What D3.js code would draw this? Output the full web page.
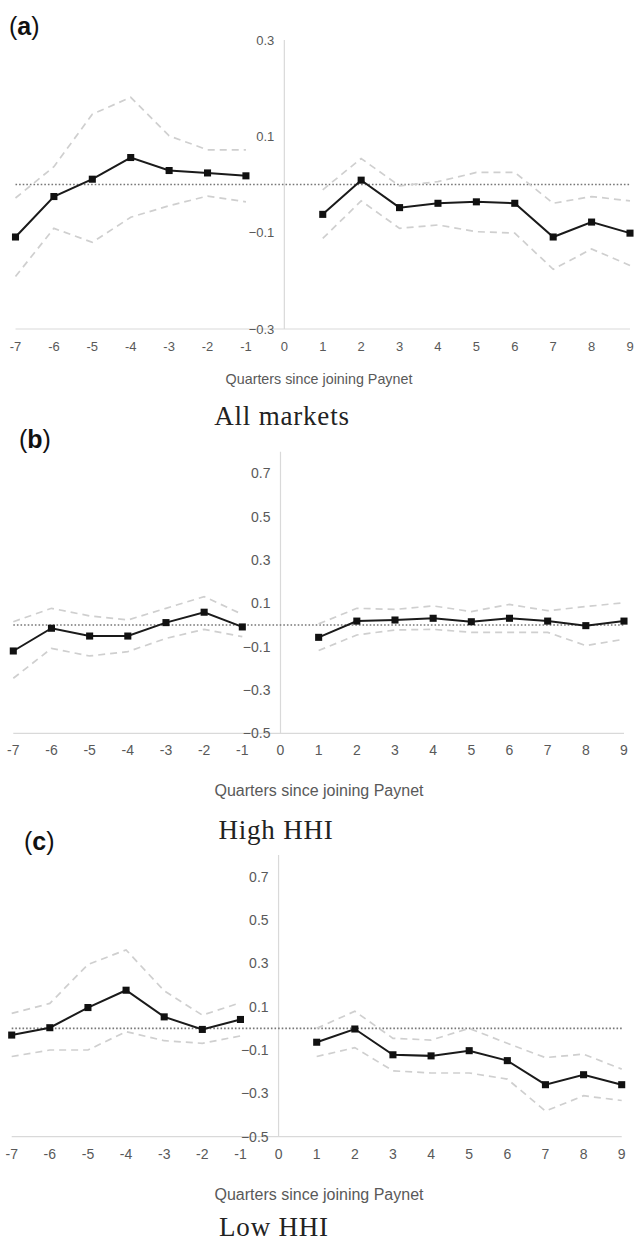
<!DOCTYPE html>
<html lang="en">
<head>
    <meta charset="UTF-8">
    <title>Quarters since joining Paynet</title>
    <script src="https://d3js.org/d3.v7.min.js"></script>
    <style>
        body { margin: 0; background: #fff; }
        svg { display: block; }
    </style>
</head>
<body>
<svg width="634" height="1243"></svg>
<script>
    // quarters relative to joining (0 is the join quarter, no estimate there)
    const quartersPre = [-7, -6, -5, -4, -3, -2, -1];
    const quartersPost = [1, 2, 3, 4, 5, 6, 7, 8, 9];
    const xTicks = [-7, -6, -5, -4, -3, -2, -1, 0, 1, 2, 3, 4, 5, 6, 7, 8, 9];

    // (a) All markets
    const allEst = [-0.109, -0.025, 0.011, 0.056, 0.029, 0.024, 0.018,
                    -0.062, 0.009, -0.048, -0.039, -0.036, -0.039, -0.109, -0.078, -0.101];
    const allHi  = [-0.028, 0.037, 0.146, 0.181, 0.101, 0.072, 0.072,
                    -0.011, 0.054, -0.003, 0.006, 0.025, 0.025, -0.039, -0.025, -0.034];
    const allLo  = [-0.191, -0.091, -0.120, -0.068, -0.044, -0.024, -0.036,
                    -0.112, -0.034, -0.091, -0.084, -0.098, -0.101, -0.176, -0.134, -0.168];

    // (b) High HHI
    const highEst = [-0.120, -0.015, -0.051, -0.051, 0.011, 0.059, -0.009,
                     -0.057, 0.018, 0.023, 0.031, 0.015, 0.031, 0.018, -0.003, 0.018];
    const highHi  = [0.015, 0.077, 0.042, 0.023, 0.077, 0.131, 0.049,
                     0.005, 0.077, 0.072, 0.088, 0.062, 0.095, 0.066, 0.085, 0.103];
    const highLo  = [-0.246, -0.108, -0.143, -0.123, -0.062, -0.020, -0.054,
                     -0.118, -0.046, -0.023, -0.020, -0.034, -0.034, -0.034, -0.095, -0.066];

    // (c) Low HHI
    const lowEst = [-0.031, 0.003, 0.096, 0.176, 0.053, -0.005, 0.041,
                    -0.064, -0.003, -0.122, -0.127, -0.103, -0.149, -0.260, -0.214, -0.260];
    const lowHi  = [0.069, 0.115, 0.295, 0.362, 0.173, 0.061, 0.118,
                    0.000, 0.079, -0.046, -0.054, 0.000, -0.069, -0.135, -0.119, -0.188];
    const lowLo  = [-0.130, -0.100, -0.100, -0.015, -0.057, -0.069, -0.035,
                    -0.130, -0.089, -0.196, -0.206, -0.206, -0.234, -0.382, -0.311, -0.333];

    const ticksA = [-0.3, -0.1, 0.1, 0.3];
    const ticksBC = [-0.5, -0.3, -0.1, 0.1, 0.3, 0.5, 0.7];

    const xTitle = "Quarters since joining Paynet";

    // panel layout (pixel boxes)
    const panels = [
        {letter: "a", caption: "All markets", est: allEst, hi: allHi, lo: allLo,
         yDomain: [-0.3, 0.3], yTicks: ticksA,
         x0: 15.5, x1: 630, top: 40, bottom: 329, fs: 13, titleFs: 14.3,
         letterPos: [9, 35], titleY: 384, captionY: 425, captionX: 282},
        {letter: "b", caption: "High HHI", est: highEst, hi: highHi, lo: highLo,
         yDomain: [-0.5, 0.8], yTicks: ticksBC,
         x0: 13.3, x1: 624, top: 451.7, bottom: 733.3, fs: 14, titleFs: 16,
         letterPos: [19, 448], titleY: 796, captionY: 839, captionX: 276},
        {letter: "c", caption: "Low HHI", est: lowEst, hi: lowHi, lo: lowLo,
         yDomain: [-0.5, 0.8], yTicks: ticksBC,
         x0: 11.7, x1: 621.7, top: 855, bottom: 1136.7, fs: 14, titleFs: 16,
         letterPos: [24, 850], titleY: 1200, captionY: 1236, captionX: 274}
    ];

    let svg = d3.select("svg");
    const sans = "'Liberation Sans', Arial, sans-serif";
    const serif = "'Liberation Serif', 'Times New Roman', serif";

    panels.forEach(p => {
        let g = svg.append("g");

        let x = d3.scaleLinear().domain([-7, 9]).range([p.x0, p.x1]);
        let y = d3.scaleLinear().domain(p.yDomain).range([p.bottom, p.top]);

        // horizontal axis line at the bottom
        g.append("line")
            .attr("x1", x(-7)).attr("x2", x(9))
            .attr("y1", y(p.yDomain[0])).attr("y2", y(p.yDomain[0]))
            .attr("stroke", "#d9d9d9").attr("stroke-width", 1.2);

        // vertical axis at quarter 0
        g.append("line")
            .attr("x1", x(0)).attr("x2", x(0))
            .attr("y1", y(p.yDomain[1])).attr("y2", y(p.yDomain[0]))
            .attr("stroke", "#d9d9d9").attr("stroke-width", 1.2);

        // y tick labels
        g.selectAll(".ylab")
            .data(p.yTicks)
            .enter()
            .append("text")
            .attr("x", x(0) - 10)
            .attr("y", d => y(d))
            .attr("dy", "0.35em")
            .attr("text-anchor", "end")
            .attr("font-family", sans)
            .attr("font-size", p.fs)
            .attr("fill", "#595959")
            .text(d => d3.format(".1f")(d));

        // x tick labels
        g.selectAll(".xlab")
            .data(xTicks)
            .enter()
            .append("text")
            .attr("x", d => x(d))
            .attr("y", y(p.yDomain[0]) + 17)
            .attr("dy", "0.35em")
            .attr("text-anchor", "middle")
            .attr("font-family", sans)
            .attr("font-size", p.fs)
            .attr("fill", "#595959")
            .text(d => d);

        // dotted zero line
        g.append("line")
            .attr("x1", x(-7)).attr("x2", x(9))
            .attr("y1", y(0)).attr("y2", y(0))
            .attr("stroke", "#777")
            .attr("stroke-width", 1.6)
            .attr("stroke-dasharray", "1.6,2");

        // split the series at quarter 0
        let n = quartersPre.length;
        let segments = [
            quartersPre.map((q, i) => ({q: q, est: p.est[i], hi: p.hi[i], lo: p.lo[i]})),
            quartersPost.map((q, i) => ({q: q, est: p.est[n + i], hi: p.hi[n + i], lo: p.lo[n + i]}))
        ];

        segments.forEach(seg => {
            ["hi", "lo"].forEach(k => {
                g.append("path")
                    .datum(seg)
                    .attr("fill", "none")
                    .attr("stroke", "#cfcfcf")
                    .attr("stroke-width", 1.7)
                    .attr("stroke-dasharray", "7,5")
                    .attr("d", d3.line().x(d => x(d.q)).y(d => y(d[k])));
            });

            g.append("path")
                .datum(seg)
                .attr("fill", "none")
                .attr("stroke", "#1a1a1a")
                .attr("stroke-width", 2)
                .attr("d", d3.line().x(d => x(d.q)).y(d => y(d.est)));

            g.selectAll(null)
                .data(seg)
                .enter()
                .append("path")
                .attr("transform", d => `translate(${x(d.q)},${y(d.est)})`)
                .attr("d", d3.symbol(d3.symbolSquare).size(50))
                .attr("fill", "#111");
        });

        // axis title
        g.append("text")
            .attr("x", 319)
            .attr("y", p.titleY)
            .attr("text-anchor", "middle")
            .attr("font-family", sans)
            .attr("font-size", p.titleFs)
            .attr("fill", "#595959")
            .text(xTitle);

        // caption under the panel
        g.append("text")
            .attr("x", p.captionX)
            .attr("y", p.captionY)
            .attr("text-anchor", "middle")
            .attr("font-family", serif)
            .attr("font-size", 27)
            .attr("letter-spacing", 0.8)
            .attr("fill", "#222")
            .text(p.caption);

        // panel letter
        let lt = g.append("text")
            .attr("x", p.letterPos[0])
            .attr("y", p.letterPos[1])
            .attr("font-family", sans)
            .attr("font-size", 25)
            .attr("fill", "#111");
        lt.append("tspan").text("(");
        lt.append("tspan").attr("font-weight", "bold").text(p.letter);
        lt.append("tspan").text(")");
    });
</script>
</body>
</html>
